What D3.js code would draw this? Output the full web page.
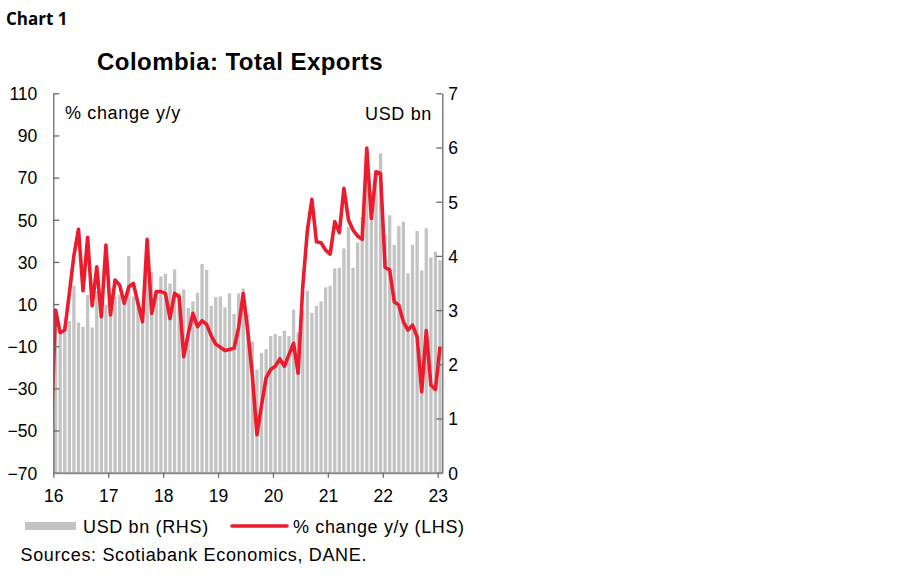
<!DOCTYPE html>
<html><head><meta charset="utf-8">
<script src="https://cdn.jsdelivr.net/npm/d3@7"></script>
<style>
body{margin:0;background:#fff}
svg text{font-family:"Liberation Sans",Arial,sans-serif;fill:#000}
</style>
</head><body>
<svg id="chart" width="900" height="579"></svg>
<script>
// ---- data ----
const months = ["Aug-16","Sep-16","Oct-16","Nov-16","Dec-16","Jan-17","Feb-17","Mar-17","Apr-17","May-17","Jun-17","Jul-17",
"Aug-17","Sep-17","Oct-17","Nov-17","Dec-17","Jan-18","Feb-18","Mar-18","Apr-18","May-18","Jun-18","Jul-18",
"Aug-18","Sep-18","Oct-18","Nov-18","Dec-18","Jan-19","Feb-19","Mar-19","Apr-19","May-19","Jun-19","Jul-19",
"Aug-19","Sep-19","Oct-19","Nov-19","Dec-19","Jan-20","Feb-20","Mar-20","Apr-20","May-20","Jun-20","Jul-20",
"Aug-20","Sep-20","Oct-20","Nov-20","Dec-20","Jan-21","Feb-21","Mar-21","Apr-21","May-21","Jun-21","Jul-21",
"Aug-21","Sep-21","Oct-21","Nov-21","Dec-21","Jan-22","Feb-22","Mar-22","Apr-22","May-22","Jun-22","Jul-22",
"Aug-22","Sep-22","Oct-22","Nov-22","Dec-22","Jan-23","Feb-23","Mar-23","Apr-23","May-23","Jun-23","Jul-23",
"Aug-23"];
// USD bn (RHS)
const exportsUSD = [3.00,2.62,2.70,2.80,3.45,2.77,2.69,3.28,2.68,3.35,3.11,3.10,
3.31,3.25,3.28,3.13,4.00,3.25,3.15,3.05,3.70,3.70,3.30,3.62,
3.67,3.49,3.75,3.32,3.38,3.04,3.16,3.32,3.85,3.74,3.08,3.24,
3.25,3.05,3.31,2.93,3.31,3.40,2.93,2.42,1.90,2.21,2.28,2.52,
2.56,2.52,2.62,2.52,3.01,2.59,3.00,3.36,2.95,3.08,3.16,3.42,
3.45,3.77,3.78,4.14,4.53,3.78,4.25,4.72,5.45,4.65,5.50,5.89,
4.39,4.75,4.20,4.55,4.63,3.68,4.20,4.46,3.73,4.51,3.97,4.08,
3.92];
// % change y/y (LHS); pctBefore = month preceding the first category (clipped by the axis)
const pctBefore = -53;
const pctChange = [7.2,-3.6,-2.3,15,33,45.5,16.3,41.7,9.2,27.7,4.0,38.0,
4.8,21.4,19.0,10.4,18.2,19.8,10.4,1.6,40.7,5.6,15.9,15.9,
15.1,3.2,15.1,13.5,-15.0,-4.0,5.6,-0.7,2.1,0.4,-5.0,-9.0,
-10.5,-12.0,-11.5,-11.0,-1.0,15.0,-3.0,-24.0,-52.0,-38.0,-25.0,-21.0,
-19.5,-16.0,-19.5,-14.0,-8.6,-22.8,18.0,44.5,59.7,39.6,39.1,35.6,
33.7,49.1,43.9,64.9,49.9,45.1,42.3,40.7,84.0,50.5,72.8,72.0,
27.4,26.2,11.1,9.5,1.6,-2.3,0.0,-5.5,-31.6,-2.5,-28.4,-30.5,
-10.2];
const leftTicks = [110,90,70,50,30,10,-10,-30,-50,-70];
const rightTicks = [7,6,5,4,3,2,1,0];
const yearLabels = ["16","17","18","19","20","21","22","23"];
const yearTickIndex = [0,12,24,36,48,60,72,84];

// ---- layout ----
const svg = d3.select("#chart");
const L = 53.3, R = 442.3, T = 93.3, B = 472.7;
const axisCol = "#6b6b6b";

const yL = d3.scaleLinear().domain([-70,110]).range([B,T]);
const yR = d3.scaleLinear().domain([0,7]).range([B,T]);
const pad = 0.28;
const x = d3.scaleBand().domain(months).range([L,R]).paddingInner(pad).paddingOuter(pad/2);
const xIdx = d3.scaleLinear().domain([0,months.length]).range([L,R]);

// bars
svg.append("g").selectAll("rect").data(exportsUSD).join("rect")
  .attr("x",(d,i)=>x(months[i]))
  .attr("width",x.bandwidth())
  .attr("y",d=>yR(d))
  .attr("height",d=>yR(0)-yR(d))
  .attr("fill","#c3c3c3");

// line
svg.append("clipPath").attr("id","plotclip").append("rect")
  .attr("x",L).attr("y",0).attr("width",R-L).attr("height",B+10);
const pts = [[x(months[0])+x.bandwidth()/2 - x.step(), pctBefore]]
  .concat(pctChange.map((d,i)=>[x(months[i])+x.bandwidth()/2, d]));
svg.append("path").datum(pts)
  .attr("clip-path","url(#plotclip)")
  .attr("fill","none").attr("stroke","#ec1c2e").attr("stroke-width",3.6)
  .attr("stroke-linejoin","round")
  .attr("d",d3.line().x(d=>d[0]).y(d=>yL(d[1])));

// axes
const fs = "18px";
const ls = "0.65px";
const gL = svg.append("g").attr("transform",`translate(${L},0)`)
  .call(d3.axisLeft(yL).tickValues(leftTicks).tickSize(-6).tickSizeOuter(0).tickPadding(16));
const gR = svg.append("g").attr("transform",`translate(${R},0)`)
  .call(d3.axisRight(yR).tickValues(rightTicks).tickSize(-6).tickSizeOuter(0).tickPadding(6).tickFormat(d3.format("d")));
const gB = svg.append("g").attr("transform",`translate(0,${B})`)
  .call(d3.axisBottom(xIdx).tickValues(yearTickIndex).tickSize(5).tickSizeOuter(0).tickPadding(12)
    .tickFormat((d,i)=>yearLabels[i]));
[gL,gR,gB].forEach(g=>{
  g.selectAll("path,line").attr("stroke",axisCol).attr("stroke-width",1.3);
  g.selectAll("text").attr("font-size","17.5px").attr("font-family","Liberation Sans, Arial, sans-serif").attr("fill","#000");
});
gB.select(".domain").attr("stroke","#8a8a8a").attr("stroke-width",2);
gL.selectAll("text").attr("dy","0.36em");
gR.selectAll("text").attr("dy","0.36em");
gB.selectAll("text").attr("dy","0.71em");

// titles and labels
svg.append("text").attr("x",6).attr("y",25).text("Chart 1")
  .style("font-family","'Open Sans',sans-serif").attr("font-weight",700).attr("font-size","17px");
svg.append("text").attr("x",240).attr("y",70).attr("text-anchor","middle")
  .attr("font-weight",700).attr("font-size","24px").attr("letter-spacing","0.45px")
  .text("Colombia: Total Exports");
svg.append("text").attr("x",65).attr("y",119).attr("font-size",fs).attr("letter-spacing",ls).text("% change y/y");
svg.append("text").attr("x",432).attr("y",120).attr("text-anchor","end").attr("font-size",fs).attr("letter-spacing",ls).text("USD bn");

// legend
svg.append("rect").attr("x",25).attr("y",522).attr("width",51).attr("height",8).attr("fill","#c3c3c3");
svg.append("text").attr("x",83).attr("y",532.5).attr("font-size",fs).attr("letter-spacing",ls).text("USD bn (RHS)");
svg.append("line").attr("x1",232).attr("x2",287).attr("y1",526).attr("y2",526)
  .attr("stroke","#ec1c2e").attr("stroke-width",3.6).attr("stroke-linecap","round");
svg.append("text").attr("x",293).attr("y",532.5).attr("font-size",fs).attr("letter-spacing",ls).text("% change y/y (LHS)");
svg.append("text").attr("x",20.5).attr("y",561).attr("font-size",fs).attr("letter-spacing",ls).text("Sources: Scotiabank Economics, DANE.");
</script>
</body></html>
